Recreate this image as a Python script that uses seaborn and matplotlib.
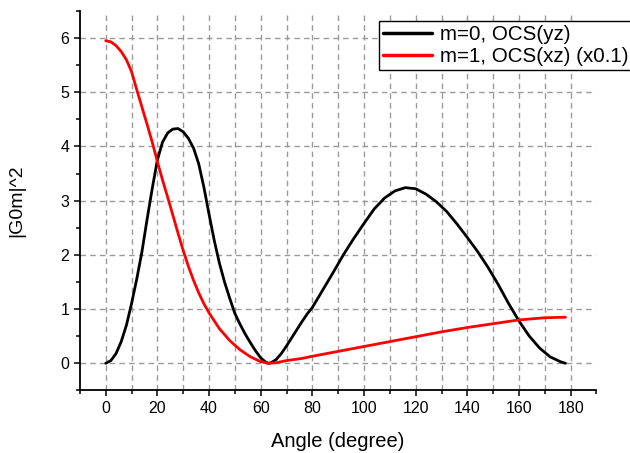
import numpy as np
import pandas as pd
import matplotlib
matplotlib.use("Agg")
import matplotlib.pyplot as plt
import seaborn as sns
from matplotlib.ticker import MultipleLocator

# ---- data ----
angle_m0 = [0, 2, 4, 6, 8, 10, 12, 14, 16, 18, 20, 22, 24, 26, 28, 30, 32, 34, 36, 38,
            40, 42, 44, 46, 48, 50, 52, 54, 56, 58, 60, 62, 63, 64, 66, 68, 70, 72, 74,
            76, 78, 80, 84, 88, 92, 96, 100, 104, 108, 112, 116, 120, 124, 128, 132,
            136, 140, 144, 148, 152, 156, 160, 164, 168, 172, 176, 178]
g_m0 = [0.0, 0.05, 0.18, 0.40, 0.70, 1.10, 1.55, 2.05, 2.65, 3.22, 3.75, 4.08, 4.25, 4.32,
        4.33, 4.27, 4.15, 3.97, 3.68, 3.25, 2.75, 2.27, 1.85, 1.50, 1.20, 0.92, 0.72,
        0.54, 0.38, 0.23, 0.10, 0.02, 0.0, 0.01, 0.07, 0.18, 0.32, 0.47, 0.62, 0.77,
        0.91, 1.03, 1.35, 1.67, 2.00, 2.30, 2.58, 2.85, 3.05, 3.18, 3.24, 3.22, 3.12,
        2.98, 2.80, 2.57, 2.32, 2.06, 1.77, 1.45, 1.10, 0.78, 0.50, 0.28, 0.12, 0.03, 0.0]

angle_m1 = [0, 2, 4, 6, 8, 10, 12, 14, 16, 18, 20, 22, 24, 26, 28, 30, 32, 34, 36, 38,
            40, 44, 48, 52, 56, 60, 63, 66, 70, 76, 80, 90, 100, 110, 120, 130, 140,
            150, 160, 170, 178]
g_m1 = [5.95, 5.93, 5.86, 5.75, 5.60, 5.38, 5.05, 4.73, 4.41, 4.08, 3.72, 3.38, 3.06,
        2.73, 2.40, 2.08, 1.79, 1.53, 1.30, 1.10, 0.93, 0.64, 0.42, 0.25, 0.12, 0.03,
        0.0, 0.01, 0.05, 0.09, 0.13, 0.22, 0.31, 0.40, 0.49, 0.58, 0.66, 0.73, 0.80,
        0.84, 0.85]

labels = ["m=0, OCS(yz)", "m=1, OCS(xz) (x0.1)"]
colors = ["black", "#ff0000"]

df = pd.concat([
    pd.DataFrame({"Angle": angle_m0, "G": g_m0, "series": labels[0]}),
    pd.DataFrame({"Angle": angle_m1, "G": g_m1, "series": labels[1]}),
])

sns.set_style("ticks")
plt.rcParams["font.family"] = ["Liberation Sans", "DejaVu Sans"]
plt.rcParams["text.color"] = "black"
plt.rcParams["axes.labelcolor"] = "black"
plt.rcParams["xtick.color"] = "black"
plt.rcParams["ytick.color"] = "black"

fig = plt.figure(figsize=(6.3, 4.53), dpi=100)
ax = fig.add_axes([0.1268, 0.1382, 0.82, 0.8377])

sns.lineplot(data=df, x="Angle", y="G", hue="series", palette=colors,
             linewidth=2.0, ax=ax, sort=False, estimator=None)
for ln in ax.get_lines():
    ln.set_solid_joinstyle("round")

ax.set_xlim(-10, 190)
ax.set_ylim(-0.5, 6.5)
ax.yaxis.set_major_locator(MultipleLocator(1))
ax.yaxis.set_minor_locator(MultipleLocator(0.5))
ax.set_xticks(np.arange(0, 181, 20))
ax.set_xticks(np.arange(-10, 191, 10), minor=True)

ax.tick_params(axis="both", which="major", direction="out", length=4.5, width=1.1,
               labelsize=11.5, color="black", labelcolor="black", pad=3)
ax.tick_params(axis="both", which="minor", direction="out", length=2.6, width=1.1,
               color="black")

# grid: vertical every 10 (0..180), horizontal at integer values
for xv in range(0, 181, 10):
    ax.axvline(xv, color="#9a9a9a", linestyle=(0, (4, 3)), linewidth=1.0, zorder=0)
for yv in range(0, 7):
    ax.axhline(yv, color="#9a9a9a", linestyle=(0, (4, 3)), linewidth=1.0, zorder=0)

for side in ["top", "right"]:
    ax.spines[side].set_visible(False)
for side in ["left", "bottom"]:
    ax.spines[side].set_linewidth(1.3)
    ax.spines[side].set_color("black")

ax.set_xlabel("Angle (degree)", fontsize=14.5, labelpad=12, color="black")
ax.set_ylabel("|G0m|^2", fontsize=14, labelpad=25, color="black")

handles, labs = ax.get_legend_handles_labels()
leg = ax.legend(handles, labs, loc="upper left",
                bbox_to_anchor=(379 / 630, 1 - 21 / 453), bbox_transform=fig.transFigure,
                fontsize=14.8, frameon=True, fancybox=False, framealpha=1,
                edgecolor="black", borderpad=0.2, labelspacing=0.15,
                handlelength=2.4, handletextpad=0.35, borderaxespad=0)
leg.get_frame().set_linewidth(1.0)
for line in leg.get_lines():
    line.set_linewidth(2.5)
for t in leg.get_texts():
    t.set_color("black")

fig.savefig("out.png", dpi=100)
